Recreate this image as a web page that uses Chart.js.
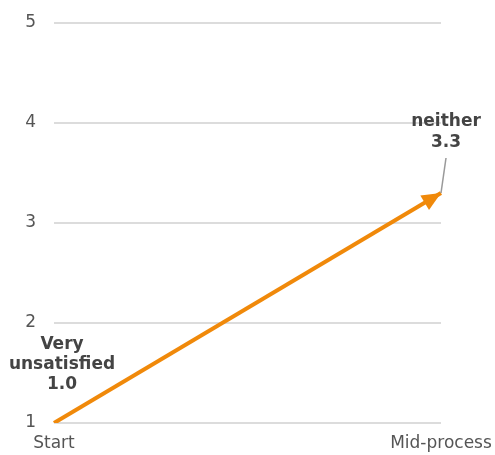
<!DOCTYPE html>
<html lang="en">
<head>
  <meta charset="UTF-8">
  <title>Satisfaction progress</title>
  <script src="https://cdn.jsdelivr.net/npm/chart.js"></script>
  <style>
    body { margin: 0; background: #fff; }
    #wrap { width: 495px; height: 455px; }
  </style>
</head>
<body>
  <div id="wrap"><canvas id="progressChart" width="495" height="455"></canvas></div>

  <script>
    // Chart data
    const stages = ['Start', 'Mid-process'];
    const scores = [1.0, 3.3];
    const scoreNames = [['Very', 'unsatisfied'], ['neither']];
    const yTicks = [1, 2, 3, 4, 5];

    const lineColor = '#F0890A';
    const textColor = '#444';

    // Arrow head at the last point plus the two callout labels
    const arrowAndLabels = {
      id: 'arrowAndLabels',
      afterDatasetsDraw(chart) {
        const ctx = chart.ctx;
        const pts = chart.getDatasetMeta(0).data;
        const a = pts[pts.length - 2], b = pts[pts.length - 1];
        const ang = Math.atan2(b.y - a.y, b.x - a.x);
        const len = 19, half = 8.5;

        ctx.save();
        ctx.fillStyle = lineColor;
        ctx.beginPath();
        ctx.moveTo(b.x, b.y);
        ctx.lineTo(b.x - len * Math.cos(ang) + half * Math.sin(ang), b.y - len * Math.sin(ang) - half * Math.cos(ang));
        ctx.lineTo(b.x - len * Math.cos(ang) - half * Math.sin(ang), b.y - len * Math.sin(ang) + half * Math.cos(ang));
        ctx.closePath();
        ctx.fill();

        ctx.font = 'bold 17px "DejaVu Sans", sans-serif';
        ctx.fillStyle = textColor;
        ctx.textAlign = 'center';
        ctx.textBaseline = 'middle';

        // start label, stacked above the first point
        const startLines = scoreNames[0].concat([scores[0].toFixed(1)]);
        startLines.forEach((t, i) => {
          ctx.fillText(t, pts[0].x + 8, pts[0].y - 38 - (startLines.length - 1 - i) * 20);
        });

        // end label with a leader line down to the point
        const endLines = scoreNames[1].concat([scores[1].toFixed(1)]);
        const lx = b.x + 5;
        const ly = b.y - 50;
        endLines.forEach((t, i) => {
          ctx.fillText(t, lx, ly - (endLines.length - 1 - i) * 21);
        });
        ctx.strokeStyle = '#999';
        ctx.lineWidth = 1.5;
        ctx.beginPath();
        ctx.moveTo(lx, ly + 15);
        ctx.lineTo(b.x, b.y);
        ctx.stroke();
        ctx.restore();
      }
    };

    new Chart(document.getElementById('progressChart'), {
      type: 'line',
      data: {
        labels: stages,
        datasets: [{
          data: scores,
          borderColor: lineColor,
          borderWidth: 4,
          pointRadius: 0,
          tension: 0
        }]
      },
      options: {
        responsive: false,
        animation: false,
        layout: { padding: { top: 23, right: 54, left: 0, bottom: 0 } },
        plugins: { legend: { display: false }, tooltip: { enabled: false } },
        scales: {
          x: {
            offset: false,
            grid: { display: false },
            border: { display: false },
            ticks: {
              color: '#555',
              font: { family: 'DejaVu Sans', size: 17 },
              padding: 2,
              maxRotation: 0
            },
            afterFit(scale) { scale.height = 32; }
          },
          y: {
            min: yTicks[0],
            max: yTicks[yTicks.length - 1],
            afterBuildTicks(scale) { scale.ticks = yTicks.map(v => ({ value: v })); },
            grid: { color: '#dcdcdc', lineWidth: 2, drawTicks: false },
            border: { display: false },
            ticks: {
              color: '#555',
              font: { family: 'DejaVu Sans', size: 17 },
              padding: 18
            },
            afterFit(scale) {
              scale.width = 54;
              scale.paddingTop = 0;
              scale.paddingBottom = 0;
            }
          }
        }
      },
      plugins: [arrowAndLabels]
    });
  </script>
</body>
</html>
